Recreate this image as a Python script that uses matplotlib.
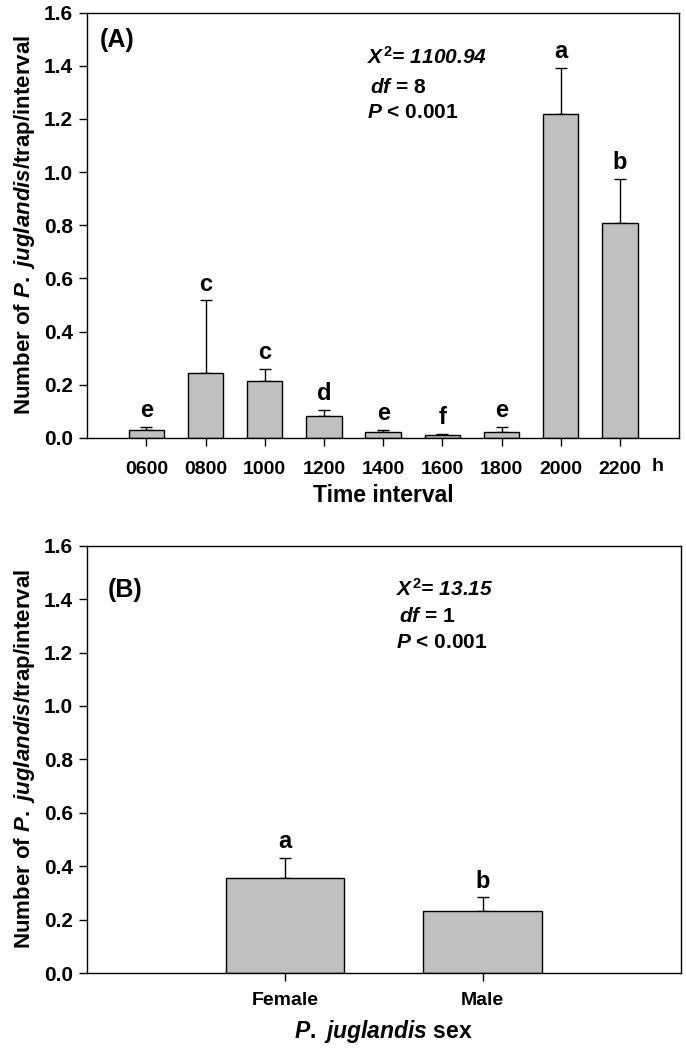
import matplotlib
matplotlib.use("Agg")
import matplotlib.pyplot as plt
import numpy as np

plt.rcParams['font.family'] = ['Liberation Sans', 'DejaVu Sans']
plt.rcParams['font.weight'] = 'bold'
plt.rcParams['mathtext.fontset'] = 'custom'
plt.rcParams['mathtext.it'] = 'Liberation Sans:italic:bold'
plt.rcParams['mathtext.bf'] = 'Liberation Sans:bold'
plt.rcParams['mathtext.rm'] = 'Liberation Sans:bold'

# panel A: time of day
times = ["0600", "0800", "1000", "1200", "1400", "1600", "1800", "2000", "2200"]
means_a = [0.03, 0.245, 0.215, 0.083, 0.022, 0.01, 0.022, 1.22, 0.808]
err_a = [0.012, 0.272, 0.045, 0.022, 0.009, 0.005, 0.018, 0.172, 0.167]
letters_a = ["e", "c", "c", "d", "e", "f", "e", "a", "b"]

# panel B: sex
sexes = ["Female", "Male"]
means_b = [0.357, 0.233]
err_b = [0.073, 0.05]
letters_b = ["a", "b"]

bar_color = "#c0c0c0"
ylab = r"Number of $P.$ $juglandis$/trap/interval"


def style_axis(ax):
    ax.set_ylim(0, 1.6)
    ax.set_yticks(np.arange(0, 1.61, 0.2))
    ax.set_yticklabels(["%.1f" % v for v in np.arange(0, 1.61, 0.2)])
    for s in ax.spines.values():
        s.set_linewidth(1.0)
    ax.tick_params(axis='both', direction='out', length=6, width=1)
    ax.tick_params(axis='y', labelsize=15, pad=4)
    ax.tick_params(axis='x', pad=11, labelsize=14)
    ax.set_ylabel(ylab, fontsize=16, fontweight='bold', labelpad=5)


def draw_bars(ax, means, errs, letters):
    x = np.arange(1, len(means) + 1)
    ax.bar(x, means, width=0.6, color=bar_color, edgecolor='black', linewidth=1, zorder=2)
    ax.errorbar(x, means, yerr=[np.zeros(len(errs)), errs], fmt='none',
                ecolor='black', elinewidth=1, capsize=4.5, capthick=1, zorder=1)
    for xi, m, e, l in zip(x, means, errs, letters):
        ax.annotate(l, (xi, m + e), xytext=(0, 7), textcoords='offset points',
                    ha='center', va='baseline', fontsize=17, fontweight='bold')
    return x


fig = plt.figure(figsize=(6.86, 10.5), dpi=100)

axA = fig.add_axes([0.127, 0.583, 0.863, 0.405])
xa = draw_bars(axA, means_a, err_a, letters_a)
axA.set_xlim(0, 10)
axA.set_xticks(xa)
axA.set_xticklabels(times)
style_axis(axA)
axA.text(9.64, -0.068, "h", transform=axA.get_xaxis_transform(), ha='center',
         va='center', fontsize=14, fontweight='bold')
axA.set_xlabel("Time interval", fontsize=16.5, fontweight='bold', labelpad=4)
axA.text(0.022, 0.936, "(A)", transform=axA.transAxes, fontsize=18, fontweight='bold', va='center')
axA.text(0.473, 0.895, r"$X^{\mathbf{2}}$= 1100.94", transform=axA.transAxes,
         fontsize=15, fontweight='bold', fontstyle='italic', va='center')
axA.text(0.478, 0.824, r"$df$ = 8", transform=axA.transAxes,
         fontsize=15, fontweight='bold', va='center')
axA.text(0.473, 0.765, r"$P$ < 0.001", transform=axA.transAxes,
         fontsize=15, fontweight='bold', va='center')

axB = fig.add_axes([0.127, 0.0733, 0.865, 0.407])
xb = draw_bars(axB, means_b, err_b, letters_b)
axB.set_xlim(0, 3)
axB.set_xticks(xb)
axB.set_xticklabels(sexes)
style_axis(axB)
axB.tick_params(axis='x', pad=8, labelsize=14)
axB.set_xlabel(r"$P.$ $juglandis$ sex", fontsize=16.5, fontweight='bold', labelpad=6)
axB.text(0.035, 0.897, "(B)", transform=axB.transAxes, fontsize=18, fontweight='bold', va='center')
axB.text(0.52, 0.90, r"$X^{\mathbf{2}}$= 13.15", transform=axB.transAxes,
         fontsize=15, fontweight='bold', fontstyle='italic', va='center')
axB.text(0.525, 0.835, r"$df$ = 1", transform=axB.transAxes,
         fontsize=15, fontweight='bold', va='center')
axB.text(0.52, 0.773, r"$P$ < 0.001", transform=axB.transAxes,
         fontsize=15, fontweight='bold', va='center')

fig.savefig("out.png", dpi=100)
